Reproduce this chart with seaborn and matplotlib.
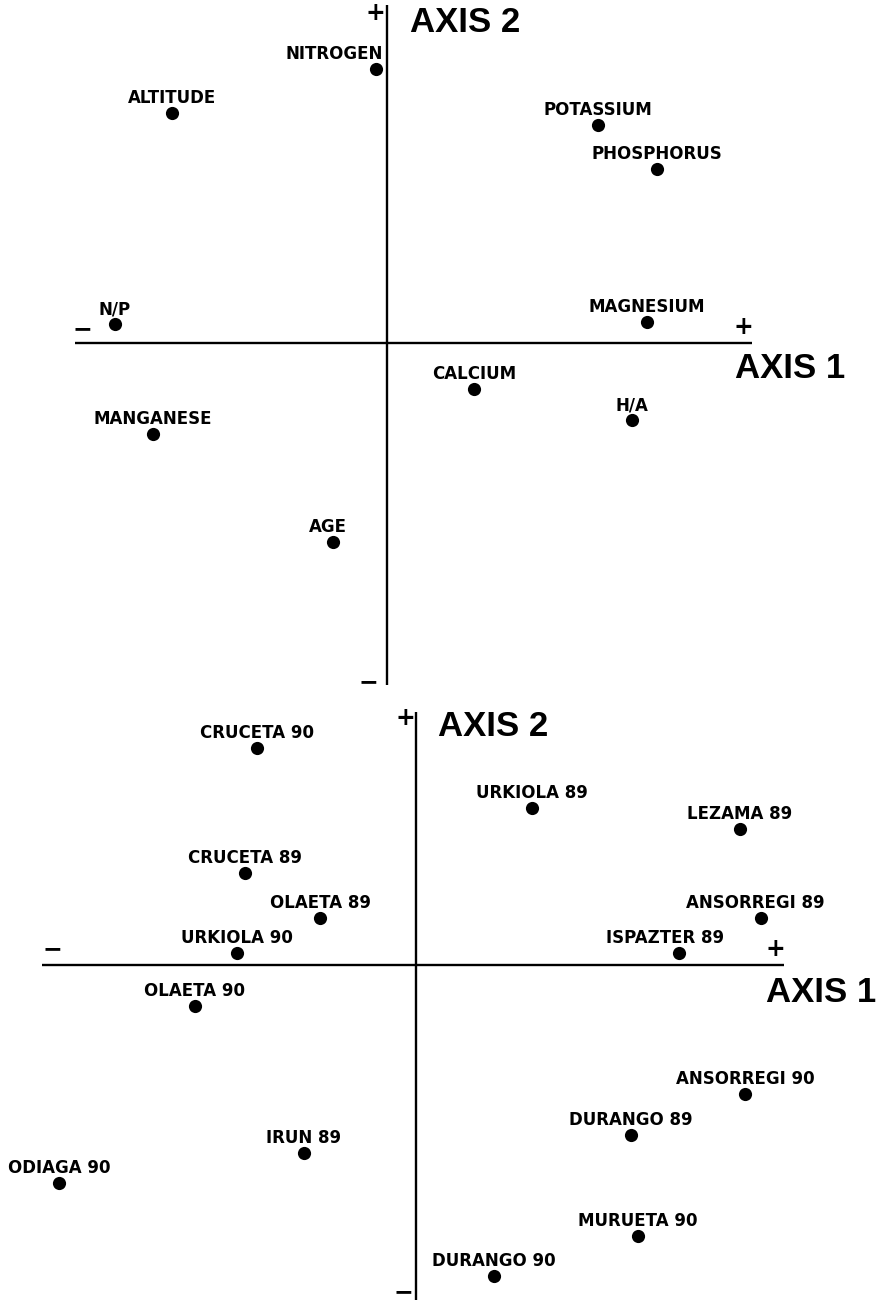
import matplotlib
matplotlib.use("Agg")
import matplotlib.pyplot as plt
from matplotlib import font_manager
import pandas as pd
import seaborn as sns

# Ordination of foliar variables (loadings) on the first two axes
variables = ["NITROGEN", "ALTITUDE", "POTASSIUM", "PHOSPHORUS", "N/P",
             "MAGNESIUM", "CALCIUM", "H/A", "MANGANESE", "AGE"]
var_axis1 = [-0.031, -0.614, 0.603, 0.771, -0.777, 0.743, 0.249, 0.700, -0.669, -0.154]
var_axis2 = [0.783, 0.657, 0.623, 0.497, 0.054, 0.060, -0.131, -0.220, -0.260, -0.569]

# Site/year scores on the same two axes
sites = ["CRUCETA 90", "URKIOLA 89", "LEZAMA 89", "CRUCETA 89", "OLAETA 89",
         "ANSORREGI 89", "URKIOLA 90", "ISPAZTER 89", "OLAETA 90", "ANSORREGI 90",
         "DURANGO 89", "IRUN 89", "ODIAGA 90", "MURUETA 90", "DURANGO 90"]
site_axis1 = [-1.59, 1.16, 3.24, -1.71, -0.96, 3.45, -1.79, 2.63, -2.21, 3.29,
              2.15, -1.12, -3.57, 2.22, 0.78]
site_axis2 = [2.17, 1.57, 1.36, 0.92, 0.47, 0.47, 0.12, 0.12, -0.41, -1.29,
              -1.70, -1.88, -2.18, -2.71, -3.11]

axis1_title = "AXIS 1"
axis2_title = "AXIS 2"

sns.set_style("white")
plt.rcParams["font.family"] = ["DejaVu Sans"]
plt.rcParams["text.color"] = "black"


def heading_font():
    names = {f.name for f in font_manager.fontManager.ttflist}
    if "Liberation Sans" in names:
        return dict(family="Liberation Sans", weight="bold", size=25)
    return dict(family="DejaVu Sans", weight="bold", size=21)


HEAD = heading_font()
W, H = 881, 1311
fig = plt.figure(figsize=(W / 100, H / 100), dpi=100)

top_rows = 700
ax_top = fig.add_axes([0, (H - top_rows) / H, 1, top_rows / H])
ax_bot = fig.add_axes([0, 0, 1, (H - top_rows) / H])


def setup(ax, origin_px, origin_row, row0, row1, scale):
    ax.set_xlim(-origin_px / scale, (W - origin_px) / scale)
    ax.set_ylim(-(row1 - origin_row) / scale, (origin_row - row0) / scale)
    ax.set_axis_off()


setup(ax_top, 387, 343, 0, top_rows, 350)
setup(ax_bot, 416, 965, top_rows, H, 100)

LINE = dict(color="black", lw=1.7, solid_capstyle="butt")
SIGN = dict(fontsize=17, fontweight="bold", ha="center", va="center", color="black")


def draw_panel(ax, names, xs, ys, hline, vline, signs, t1, t2, align):
    ax.plot(hline, [0, 0], **LINE)
    ax.plot([0, 0], vline, **LINE)
    df = pd.DataFrame({"a1": xs, "a2": ys, "name": names})
    sns.scatterplot(data=df, x="a1", y="a2", ax=ax, color="black", s=90,
                    linewidth=0, legend=False, zorder=3)
    for n, x, y in zip(df["name"], df["a1"], df["a2"]):
        ha, dx = align.get(n, ("center", 0))
        ax.annotate(n, (x, y), xytext=(dx, 7), textcoords="offset points",
                    ha=ha, va="baseline", fontsize=12, fontweight="bold",
                    color="black")
    for s, (sx, sy) in signs:
        ax.text(sx, sy, s, **SIGN)
    ax.text(*t1, axis1_title, ha="center", va="center", color="black", **HEAD)
    ax.text(*t2, axis2_title, ha="center", va="center", color="black", **HEAD)


draw_panel(
    ax_top, variables, var_axis1, var_axis2,
    hline=[-0.891, 1.043], vline=[-0.977, 0.966],
    signs=[("+", (-0.034, 0.943)), ("\u2212", (-0.052, -0.968)),
           ("\u2212", (-0.869, 0.040)), ("+", (1.017, 0.046))],
    t1=(1.151, -0.074), t2=(0.223, 0.917),
    align={"NITROGEN": ("right", 5), "AGE": ("center", -4)},
)

draw_panel(
    ax_bot, sites, site_axis1, site_axis2,
    hline=[-3.74, 3.68], vline=[-3.35, 2.53],
    signs=[("+", (-0.11, 2.47)), ("\u2212", (-0.13, -3.27)),
           ("\u2212", (-3.64, 0.16)), ("+", (3.59, 0.16))],
    t1=(4.05, -0.27), t2=(0.77, 2.38),
    align={"ISPAZTER 89": ("center", -10), "ANSORREGI 89": ("center", -4)},
)

fig.savefig("out.png", dpi=100, facecolor="white")
